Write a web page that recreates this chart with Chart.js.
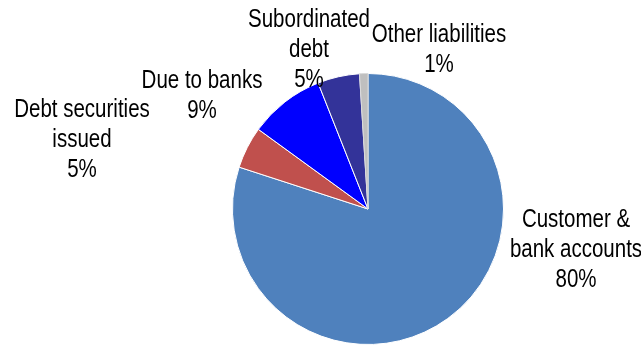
<!DOCTYPE html>
<html>
<head>
<meta charset="utf-8">
<script src="https://cdn.jsdelivr.net/npm/chart.js@4.4.1/dist/chart.umd.min.js"></script>
<style>
  html, body { margin: 0; padding: 0; background: #fff; }
  #wrap { width: 641px; height: 347px; position: relative; }
</style>
</head>
<body>
<div id="wrap"><canvas id="liabChart"></canvas></div>
<script>
// Funding structure (share of total liabilities)
const categories = [
    ['Customer &', 'bank accounts'],
    ['Debt securities', 'issued'],
    ['Due to banks'],
    ['Subordinated', 'debt'],
    ['Other liabilities']
];
const shares = [80, 5, 9, 5, 1];
const sliceColors = ['#4F81BD', '#C0504D', '#0000FF', '#333399', '#BFBFBF'];

// where each label block sits (center x, baseline of first line)
const labelSpots = [
    { x: 576, y: 227 },
    { x: 82, y: 117 },
    { x: 202, y: 88 },
    { x: 309, y: 27 },
    { x: 439, y: 42 }
];
const lineGap = 30;
const squeeze = 0.82;

const sliceLabels = {
    id: 'sliceLabels',
    afterDatasetsDraw(chart) {
        const ctx = chart.ctx;
        const values = chart.data.datasets[0].data;
        ctx.save();
        ctx.font = '25px "Liberation Sans", Arial, sans-serif';
        ctx.fillStyle = '#000';
        ctx.textAlign = 'center';
        ctx.textBaseline = 'alphabetic';
        values.forEach((v, i) => {
            const lines = categories[i].concat([v + '%']);
            const spot = labelSpots[i];
            lines.forEach((t, j) => {
                ctx.save();
                ctx.translate(spot.x, spot.y + j * lineGap);
                ctx.scale(squeeze, 1);
                ctx.fillText(t, 0, 0);
                ctx.restore();
            });
        });
        ctx.restore();
    }
};

const ctx = document.getElementById('liabChart').getContext('2d');
new Chart(ctx, {
    type: 'pie',
    data: {
        labels: categories.map(c => c.join(' ')),
        datasets: [{
            data: shares,
            backgroundColor: sliceColors,
            borderColor: ['#ffffff', '#ffffff', '#ffffff', '#ffffff', '#D9D9D9'],
            borderWidth: 1
        }]
    },
    options: {
        responsive: true,
        maintainAspectRatio: false,
        animation: false,
        layout: {
            padding: { left: 232, right: 137, top: 73, bottom: 2 }
        },
        plugins: {
            legend: { display: false },
            tooltip: { enabled: false }
        }
    },
    plugins: [sliceLabels]
});
</script>
</body>
</html>
